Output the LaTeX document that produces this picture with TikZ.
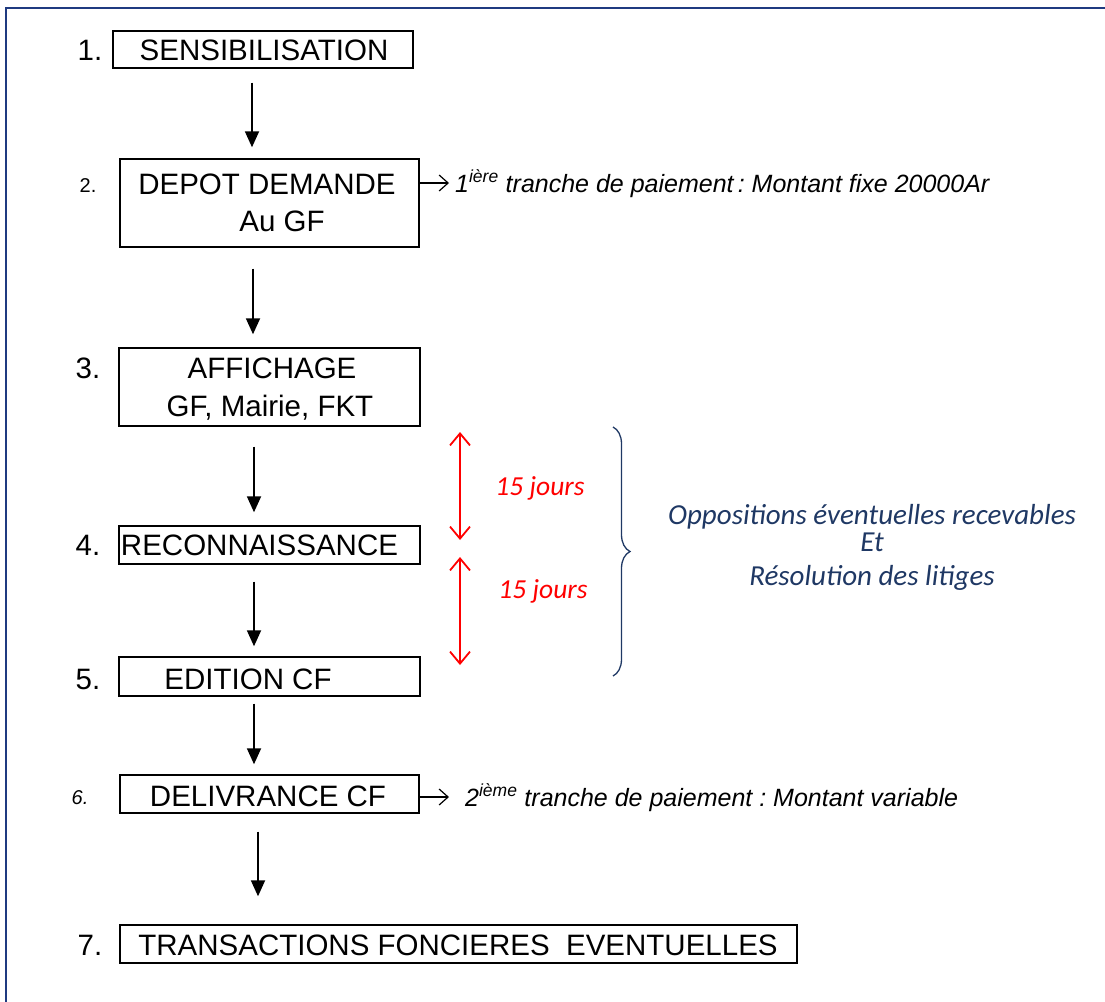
\documentclass[tikz,border=0pt]{standalone}
\usepackage{fontspec}
\setmainfont{Liberation Sans}
\newfontfamily\calfont{Carlito}
\usetikzlibrary{arrows.meta,decorations.pathreplacing}
\definecolor{frameblue}{RGB}{31,58,128}
\definecolor{navy}{RGB}{31,56,100}
\definecolor{redc}{RGB}{255,0,0}
\frenchspacing
\begin{document}
\begin{tikzpicture}[x=1pt,y=-1pt,
  box/.style={draw,line width=1.4pt,inner sep=0pt},
  big/.style={font=\fontsize{29.5}{34}\selectfont,inner sep=0pt},
  small/.style={font=\fontsize{20}{24}\selectfont,inner sep=0pt},
  note/.style={font=\fontsize{25}{28}\selectfont\itshape,inner sep=0pt,anchor=base west},
  flow/.style={line width=1.8pt,-{Triangle[length=16pt,width=14pt]}},
  side/.style={line width=1.2pt,-{Straight Barb[length=9pt,width=16pt]}},
  days/.style={redc,line width=1.8pt,{Straight Barb[length=12pt,width=20pt]}-{Straight Barb[length=12pt,width=20pt]}},
  daytxt/.style={redc,font=\fontsize{27.5}{30}\selectfont\calfont\itshape,inner sep=0pt}]
\useasboundingbox (0,0) rectangle (1105,1001);
% frame
\draw[frameblue,line width=2.5pt] (6,1005) -- (6,8) -- (1110,8);
% boxes
\node[box,minimum width=300pt,minimum height=37pt] (b1) at (263,49.5) {};
\node[box,minimum width=299pt,minimum height=88pt] (b2) at (269.5,203) {};
\node[box,minimum width=301pt,minimum height=78pt] (b3) at (269.5,387) {};
\node[box,minimum width=301pt,minimum height=38pt] (b4) at (269.5,545) {};
\node[box,minimum width=301pt,minimum height=39pt] (b5) at (269.5,676.5) {};
\node[box,minimum width=299pt,minimum height=38pt] (b6) at (269.5,794) {};
\node[box,minimum width=677pt,minimum height=38pt] (b7) at (458.5,944) {};
% box texts
\node[big] (t1) at (264,50) {SENSIBILISATION};
\node[big] (t2a) at (267,184) {DEPOT DEMANDE};
\node[big] (t2b) at (282,221) {Au GF};
\node[big] (t3a) at (272,368) {AFFICHAGE};
\node[big] (t3b) at (270,408) {GF, Mairie, FKT};
\node[big] (t4) at (259.5,545) {RECONNAISSANCE};
\node[big] (t5) at (248,679) {EDITION CF};
\node[big] (t6) at (268,796) {DELIVRANCE CF};
\node[big] (t7) at (458,945) {TRANSACTIONS FONCIERES\ \ EVENTUELLES};
% numbers
\node[big] (n1) at (90,50) {1.};
\node[small] (n2) at (88,186) {2.};
\node[big] (n3) at (88,368) {3.};
\node[big] (n4) at (88,545) {4.};
\node[big] (n5) at (88,679) {5.};
\node[small,font=\fontsize{20}{24}\selectfont\itshape] (n6) at (80,798) {6.};
\node[big] (n7) at (90,945) {7.};
% flow arrows
\draw[flow] ([xshift=-11pt,yshift=-14pt]b1.south) -- ([xshift=-17.5pt,yshift=11pt]b2.north);
\draw[flow] ([xshift=-16.5pt,yshift=-21pt]b2.south) -- ([xshift=-16.5pt,yshift=13pt]b3.north);
\draw[flow] ([xshift=-15.5pt,yshift=-20pt]b3.south) -- ([xshift=-15.5pt,yshift=13pt]b4.north);
\draw[flow] ([xshift=-15.5pt,yshift=-17pt]b4.south) -- ([xshift=-15.5pt,yshift=10pt]b5.north);
\draw[flow] ([xshift=-15.5pt,yshift=-7pt]b5.south) -- ([xshift=-15.5pt,yshift=10pt]b6.north);
\draw[flow] ([xshift=-11.5pt,yshift=-18pt]b6.south) -- ([xshift=-200.5pt,yshift=28pt]b7.north);
% payments
\coordinate (p1) at (449,183);
\node[note] (pay1) at (455,192) {1\textsuperscript{ière} tranche de paiement\,: Montant fixe 20000Ar};
\draw[side] (b2.east |- p1) -- (p1);
\coordinate (p2) at (449,797);
\node[note] (pay2) at (465,806) {2\textsuperscript{ième} tranche de paiement : Montant variable};
\draw[side] (b6.east |- p2) -- (p2);
% 15 jours
\coordinate (d1a) at (460,432);
\coordinate (d1b) at (460,540);
\coordinate (d2a) at (460,557);
\coordinate (d2b) at (460,665);
\draw[days] (d1a) -- (d1b);
\draw[days] (d2a) -- (d2b);
\node[daytxt] (j1) at (540,488) {15 jours};
\node[daytxt] (j2) at (543,591) {15 jours};
% brace
\coordinate (br1) at (613,427);
\coordinate (br2) at (613,676);
\draw[navy,line width=1.3pt,decorate,decoration={brace,amplitude=17pt,aspect=0.5}] (br1) -- (br2);
\node[navy,font=\fontsize{29}{27}\selectfont\calfont\itshape,align=center,inner sep=0pt] (opp) at (872,547)
  {Oppositions éventuelles recevables\\ Et\\[7pt] Résolution des litiges};
\end{tikzpicture}
\end{document}
